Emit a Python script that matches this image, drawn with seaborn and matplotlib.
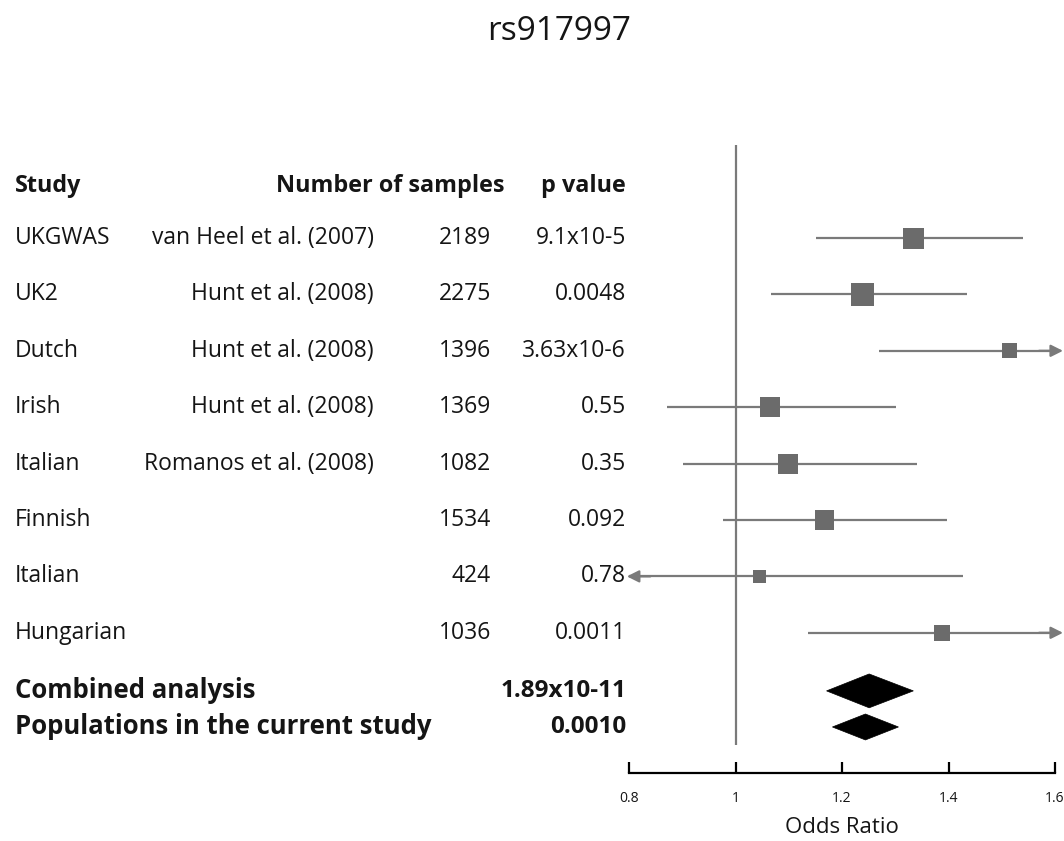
import numpy as np
import matplotlib
matplotlib.use("Agg")
import matplotlib.pyplot as plt
import matplotlib.transforms as mtransforms
from matplotlib.patches import Polygon
import seaborn as sns

# ---------------- data ----------------
studies = ["UKGWAS", "UK2", "Dutch", "Irish", "Italian", "Finnish", "Italian", "Hungarian"]
references = ["van Heel et al. (2007)", "Hunt et al. (2008)", "Hunt et al. (2008)",
              "Hunt et al. (2008)", "Romanos et al. (2008)", "", "", ""]
n_samples = [2189, 2275, 1396, 1369, 1082, 1534, 424, 1036]
p_values = ["9.1x10-5", "0.0048", "3.63x10-6", "0.55", "0.35", "0.092", "0.78", "0.0011"]
odds_ratio = [1.334, 1.238, 1.514, 1.064, 1.099, 1.167, 1.045, 1.388]
ci_low = [1.152, 1.066, 1.270, 0.871, 0.902, 0.976, -np.inf, 1.137]   # -inf: beyond axis
ci_high = [1.540, 1.435, np.inf, 1.302, 1.341, 1.398, 1.428, np.inf]  # inf: beyond axis
weights = [21, 23, 15, 20, 20, 19.5, 13, 16]   # relative box size

summary_labels = ["Combined analysis", "Populations in the current study"]
summary_p = ["1.89x10-11", "0.0010"]
summary_or = [1.251, 1.244]
summary_low = [1.171, 1.182]
summary_high = [1.334, 1.306]

x_ticks = [0.8, 1.0, 1.2, 1.4, 1.6]
x_tick_labels = ["0.8", "1", "1.2", "1.4", "1.6"]

# ---------------- style ----------------
sns.set_theme(style="white")
plt.rcParams["font.family"] = ["Open Sans", "DejaVu Sans"]
txt = "#151515"
plt.rcParams["text.color"] = txt
plt.rcParams["axes.labelcolor"] = txt
plt.rcParams["xtick.color"] = "black"
plt.rcParams["xtick.labelcolor"] = txt

W, H = 1064, 841
fig = plt.figure(figsize=(W / 100, H / 100), dpi=100)
ax = fig.add_axes([629 / W, 1 - 773 / H, (1055 - 629) / W, (773 - 145) / H])

row_y = np.arange(len(studies), dtype=float)
summary_y = np.array([8.03, 8.67])
header_y = -0.92
ax.set_xlim(0.8, 1.6)
ax.set_ylim(9.486, -1.649)

line_gray = "#7a7a7a"
box_gray = "#6b6b6b"

# reference line at OR = 1
ax.vlines(1.0, -1.649, 8.99, color=line_gray, lw=1.6, zorder=1)

# confidence intervals
x_lo, x_hi = ax.get_xlim()
for y, lo, hi, o in zip(row_y, ci_low, ci_high, odds_ratio):
    lo_c = max(lo, x_lo)
    hi_c = min(hi, x_hi)
    ax.hlines(y, lo_c, hi_c, color=line_gray, lw=1.6, zorder=2, clip_on=False)
    if np.isinf(hi):
        ax.annotate("", xy=(x_hi + 0.015, y), xytext=(x_hi - 0.03, y),
                    arrowprops=dict(arrowstyle="-|>", color=line_gray, lw=1.6,
                                    mutation_scale=18, shrinkA=0, shrinkB=0),
                    annotation_clip=False, zorder=2)
    if np.isinf(lo):
        ax.annotate("", xy=(x_lo - 0.004, y), xytext=(x_lo + 0.04, y),
                    arrowprops=dict(arrowstyle="-|>", color=line_gray, lw=1.6,
                                    mutation_scale=18, shrinkA=0, shrinkB=0),
                    annotation_clip=False, zorder=2)

# boxes
sizes = [(w * 0.72) ** 2 for w in weights]
sns.scatterplot(x=odds_ratio, y=row_y, s=sizes, marker="s", color=box_gray,
                edgecolor="none", linewidth=0, ax=ax, zorder=3, legend=False)

# summary diamonds
diamond_half_h = [0.30, 0.23]
for y, o, lo, hi, hh in zip(summary_y, summary_or, summary_low, summary_high, diamond_half_h):
    ax.add_patch(Polygon([[lo, y], [o, y - hh], [hi, y], [o, y + hh]],
                         closed=True, facecolor="black", edgecolor="black", lw=0.5, zorder=3))

# axis styling
for s in ["top", "right", "left"]:
    ax.spines[s].set_visible(False)
ax.spines["bottom"].set_color("black")
ax.spines["bottom"].set_linewidth(1.6)
ax.set_yticks([])
ax.set_xticks(x_ticks)
ax.set_xticklabels(x_tick_labels, fontsize=10)
ax.tick_params(axis="x", direction="in", length=8, width=1.6, pad=13, bottom=True)
ax.set_xlabel("Odds Ratio", fontsize=16, labelpad=8)
ax.patch.set_alpha(0)

# ---------------- text columns ----------------
tr = mtransforms.blended_transform_factory(fig.transFigure, ax.transData)
fs = 16.5
fs_head = 16.8
col_study = 15 / W
col_ref = 374 / W
col_n = 491 / W
col_p = 626 / W

ax.text(col_study, header_y, "Study", transform=tr, ha="left", va="center",
        fontsize=fs_head, fontweight="bold")
ax.text(504 / W, header_y, "Number of samples", transform=tr, ha="right", va="center",
        fontsize=fs_head, fontweight="bold")
ax.text(col_p, header_y, "p value", transform=tr, ha="right", va="center",
        fontsize=fs_head, fontweight="bold")

for y, st, rf, n, p in zip(row_y, studies, references, n_samples, p_values):
    ax.text(col_study, y, st, transform=tr, ha="left", va="center", fontsize=fs)
    ax.text(col_ref, y, rf, transform=tr, ha="right", va="center", fontsize=fs)
    ax.text(col_n, y, str(n), transform=tr, ha="right", va="center", fontsize=fs)
    ax.text(col_p, y, p, transform=tr, ha="right", va="center", fontsize=fs)

for y, lab, p in zip(summary_y, summary_labels, summary_p):
    ax.text(col_study, y, lab, transform=tr, ha="left", va="center",
            fontsize=18.5, fontweight="bold")
    ax.text(col_p, y, p, transform=tr, ha="right", va="center",
            fontsize=17.5, fontweight="bold")

fig.text(559 / W, 1 - 31 / H, "rs917997", ha="center", va="center", fontsize=24)

fig.savefig("out.png", dpi=100, facecolor="white")
